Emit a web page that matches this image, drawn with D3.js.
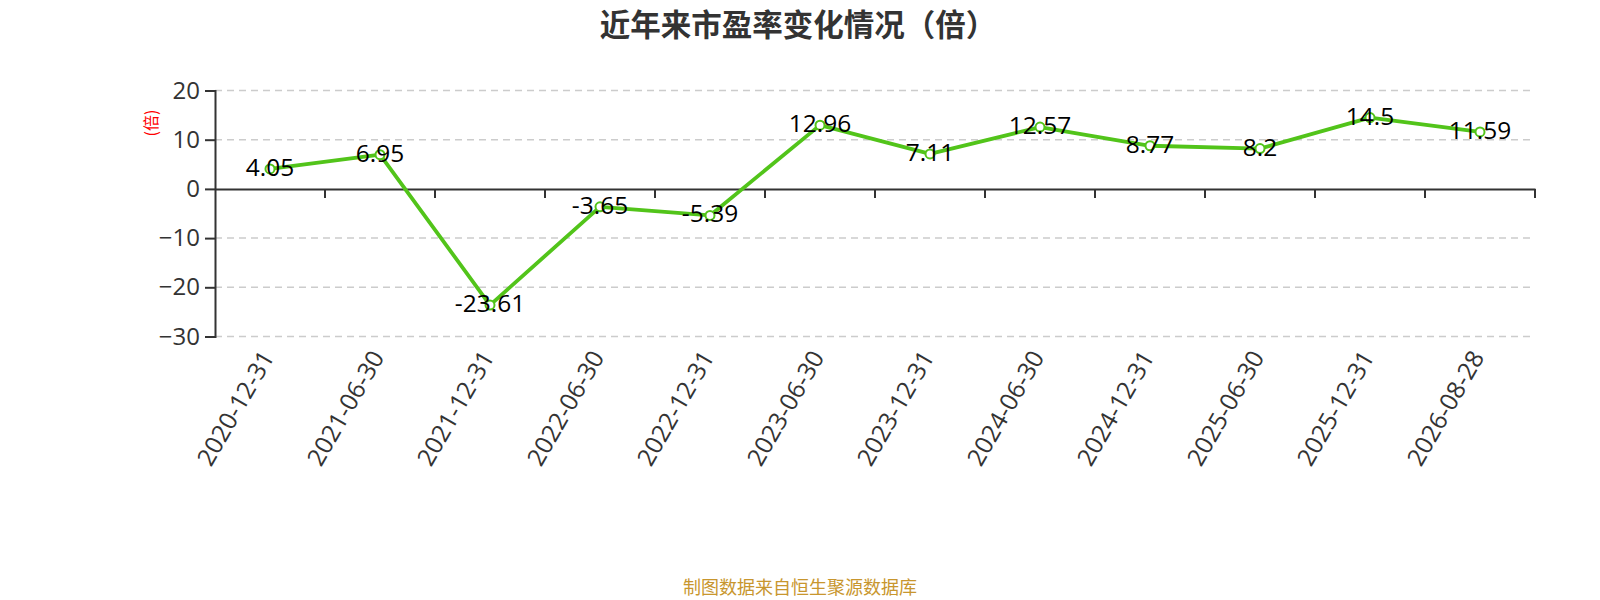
<!DOCTYPE html>
<html><head><meta charset="utf-8">
<script src="https://cdn.jsdelivr.net/npm/d3@7"></script>
<style>
html,body{margin:0;padding:0;background:#fff;}
svg{display:block;}
</style>
</head><body>
<svg id="chart" width="1600" height="600"></svg>
<script>
const categories = ["2020-12-31","2021-06-30","2021-12-31","2022-06-30","2022-12-31","2023-06-30","2023-12-31","2024-06-30","2024-12-31","2025-06-30","2025-12-31","2026-08-28"];
const peValues = [4.05, 6.95, -23.61, -3.65, -5.39, 12.96, 7.11, 12.57, 8.77, 8.2, 14.5, 11.59];
const yTicks = [-30, -20, -10, 0, 10, 20];
const titleText = "近年来市盈率变化情况（倍）";
const yAxisName = "(倍)";
const footerText = "制图数据来自恒生聚源数据库";

const svg = d3.select("#chart");
const latin = "'Open Sans', 'Noto Sans', sans-serif";
const cjk = "'Noto Sans CJK SC', sans-serif";
const green = "#52c41a";

const x = d3.scaleBand().domain(categories).range([215, 1535]);
const y = d3.scaleLinear().domain([-30, 20]).range([336.5, 90.5]);

// gridlines
svg.append("g").selectAll("line").data(yTicks.filter(d => d !== 0)).join("line")
  .attr("x1", 215).attr("x2", 1535)
  .attr("y1", d => y(d)).attr("y2", d => y(d))
  .attr("stroke", "#ccc").attr("stroke-width", 1.5).attr("stroke-dasharray", "7,5");

// y axis
const yAxis = svg.append("g").attr("transform", "translate(215,0)")
  .call(d3.axisLeft(y).tickValues(yTicks).tickSize(10).tickPadding(5).tickFormat(d3.format("d")));
yAxis.select(".domain").attr("stroke", "#333").attr("stroke-width", 2);
yAxis.selectAll(".tick line").attr("stroke", "#333").attr("stroke-width", 2);
yAxis.selectAll(".tick text").attr("fill", "#333").style("font-family", latin).style("font-size", "24px");

// x axis at zero
const xAxis = svg.append("g").attr("transform", `translate(0,${y(0)})`)
  .call(d3.axisBottom(x).tickSize(0).tickFormat(""));
xAxis.select(".domain").attr("stroke", "#333").attr("stroke-width", 2);
xAxis.selectAll(".tick").remove();
const bounds = categories.map(c => x(c)).concat([x.range()[1]]);
svg.append("g").selectAll("line").data(bounds.slice(1)).join("line")
  .attr("x1", d => d).attr("x2", d => d)
  .attr("y1", y(0)).attr("y2", y(0) + 9)
  .attr("stroke", "#333").attr("stroke-width", 2);

// x labels at bottom
svg.append("g").selectAll("text").data(categories).join("text")
  .attr("transform", d => `translate(${x(d) + x.bandwidth() / 2 + 5},357) rotate(-60)`)
  .attr("text-anchor", "end")
  .attr("fill", "#333")
  .style("font-family", latin).style("font-size", "24.5px")
  .text(d => d);

// line
const cx = (d, i) => x(categories[i]) + x.bandwidth() / 2;
svg.append("path").datum(peValues)
  .attr("fill", "none").attr("stroke", green).attr("stroke-width", 3.8)
  .attr("stroke-linejoin", "round")
  .attr("d", d3.line().x(cx).y(d => y(d)));

svg.append("g").selectAll("circle").data(peValues).join("circle")
  .attr("cx", cx).attr("cy", d => y(d)).attr("r", 4.5)
  .attr("fill", "#fff").attr("stroke", green).attr("stroke-width", 2);

// data labels
svg.append("g").selectAll("text").data(peValues).join("text")
  .attr("x", cx).attr("y", d => y(d) + 7)
  .attr("text-anchor", "middle").attr("fill", "#000")
  .style("font-family", latin).style("font-size", "24.5px")
  .text(d => d);

// y axis name
svg.append("text")
  .attr("transform", "translate(157,123) rotate(-90)")
  .attr("text-anchor", "middle").attr("fill", "red")
  .style("font-family", cjk).style("font-size", "16px")
  .text(yAxisName);

// title
svg.append("text").attr("x", 798).attr("y", 35.5)
  .attr("text-anchor", "middle").attr("fill", "#333")
  .style("font-family", cjk).style("font-size", "30.5px").style("font-weight", "bold")
  .text(titleText);

// footer
svg.append("text").attr("x", 800).attr("y", 594)
  .attr("text-anchor", "middle").attr("fill", "#c8962e")
  .style("font-family", cjk).style("font-size", "18px")
  .text(footerText);
</script>
</body></html>
